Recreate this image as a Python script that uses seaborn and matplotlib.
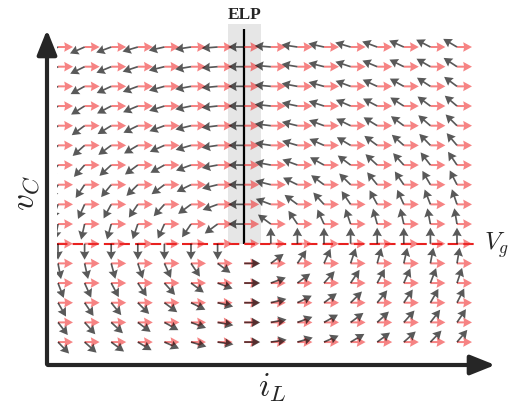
import numpy as np
import pandas as pd
import matplotlib
matplotlib.use("Agg")
import matplotlib.pyplot as plt
import seaborn as sns
from matplotlib.patches import FancyArrowPatch

# ---- data (grid in normalised units) ----
iL_grid = [0, 1, 2, 3, 4, 5, 6, 7, 8, 9, 10, 11, 12, 13, 14, 15]
vC_grid = [0, 1, 2, 3, 4, 5, 6, 7, 8, 9, 10, 11, 12, 13, 14, 15]
Vg = 5.0          # input voltage level (dashed line)
I_elp = 7.0       # equilibrium load point (ELP) current
on_diL = 1.0      # on-state: inductor current rises
on_dvC = 0.0      # on-state: capacitor voltage flat

sns.set_theme(style="white")
plt.rcParams["mathtext.fontset"] = "cm"

W, H = 508, 409
fig = plt.figure(figsize=(W / 100, H / 100), dpi=100)
ax = fig.add_axes([57 / W, 1 - 358 / H, 421 / W, 334 / H])
ax.set_xlim(-0.0376, 15.79)
ax.set_ylim(-0.81, 16.17)
ax.axis("off")

IL, VC = np.meshgrid(np.array(iL_grid, float), np.array(vC_grid, float))

# off-state field: L diL/dt = Vg - vC ; C dvC/dt = iL - I_elp
U_off = Vg - VC
V_off = IL - I_elp
mag = np.hypot(U_off, V_off)
mag[mag == 0] = np.nan
U_off = U_off / mag
V_off = V_off / mag

U_on = np.full_like(IL, on_diL)
V_on = np.full_like(IL, on_dvC)

# ELP band and line
ax.fill_betweenx([Vg, 16.17], I_elp - 0.62, I_elp + 0.62,
                 color="#e6e6e6", lw=0, zorder=0)
ax.vlines(I_elp, Vg, 15.91, color="black", lw=1.6, zorder=1)

# Vg dashed line
ax.axhline(Vg, color="#e8211f", lw=1.5, dashes=(5, 2.5), zorder=1)

base = dict(angles="xy", scale_units="dots", units="dots", pivot="tail")
ax.quiver(IL, VC, U_on, V_on, color="#f03030", alpha=0.6, width=2.0,
          scale=1 / 15, headwidth=4.8, headlength=4.4, headaxislength=4.0,
          zorder=2, **base)
ax.quiver(IL, VC, U_off, V_off, color="black", alpha=0.65, width=1.7,
          scale=1 / 16, headwidth=5.6, headlength=5.0, headaxislength=4.5,
          zorder=3, **base)

ax.text(I_elp, 16.65, "ELP", ha="center", va="center", fontsize=12.5,
        fontweight="bold", family="Liberation Serif", clip_on=False)

# axis arrows
def px(x, y):
    return (x / W, 1 - y / H)

for start, end in [((47, 367), (47, 27)), ((45, 365), (498, 365))]:
    fig.patches.append(FancyArrowPatch(px(*start), px(*end),
                                       transform=fig.transFigure,
                                       arrowstyle="-|>,head_length=0.75,head_width=0.3",
                                       mutation_scale=20, lw=3, color="#262626"))

fig.text(*px(25, 193), r"$v_C$", fontsize=24, rotation=90,
         ha="center", va="center")
fig.text(*px(272, 388), r"$i_L$", fontsize=24, ha="center", va="center")
fig.text(*px(496, 245), r"$V_g$", fontsize=18, ha="center", va="center")

fig.savefig("out.png", dpi=100)
